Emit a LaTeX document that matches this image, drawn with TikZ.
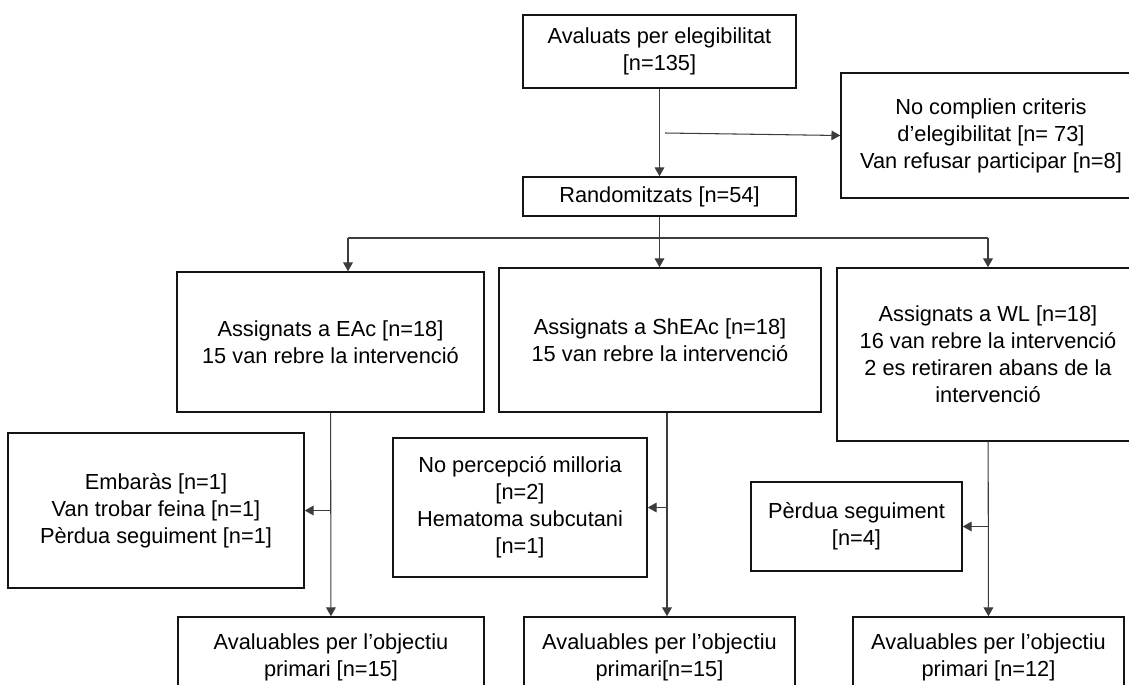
\documentclass[tikz,border=0pt]{standalone}
\usepackage{fontspec}
\setmainfont{Liberation Sans}
\usepackage{tikz}
\usetikzlibrary{positioning,arrows.meta,calc}
\definecolor{boxcolor}{RGB}{20, 20, 20}
\definecolor{linecolor}{RGB}{60, 60, 60}
\newcommand{\flowfont}{\fontsize{12.4pt}{15.3pt}\selectfont}
\tikzset{
    flow box/.style={rectangle, draw=boxcolor, line width=0.9pt, align=center, font=\flowfont, inner sep=2pt},
    flow line/.style={line width=0.6pt, draw=linecolor},
    flow arrow/.style={flow line, -{Triangle[length=5pt, width=5.5pt]}}
}

\begin{document}
\begin{tikzpicture}[x=0.02cm, y=-0.02cm]
\useasboundingbox (0,0) rectangle (1129,684);
\clip (0,0) rectangle (1129,684);

% screening
\node[flow box, minimum width=5.46cm, minimum height=1.46cm] (eval) at (659.5,51.5) {Avaluats per elegibilitat\\{[n=135]}};
\node[flow box, minimum width=6cm, minimum height=2.5cm] (excl) at (991,135.5) {No complien criteris\\d’elegibilitat [n= 73]\\Van refusar participar [n=8]};
\node[flow box, minimum width=5.46cm, minimum height=0.78cm] (rand) at (659.5,196.5) {Randomitzats [n=54]};

% allocation
\node[flow box, minimum width=6.14cm, minimum height=2.8cm] (eac) at (330.5,342) {Assignats a EAc [n=18]\\15 van rebre la intervenció};
\node[flow box, minimum width=6.44cm, minimum height=2.88cm] (sheac) at (660,340) {Assignats a ShEAc [n=18]\\15 van rebre la intervenció};
\node[flow box, minimum width=6.04cm, minimum height=3.46cm] (wl) at (988,354.5) {Assignats a WL [n=18]\\16 van rebre la intervenció\\2 es retiraren abans de la\\intervenció};

% losses
\node[flow box, minimum width=5.92cm, minimum height=3.1cm] (lossEac) at (156,510.5) {Embaràs [n=1]\\Van trobar feina [n=1]\\Pèrdua seguiment [n=1]};
\node[flow box, minimum width=5.08cm, minimum height=2.78cm] (lossSheac) at (520,507.5) {No percepció milloria\\{[n=2]}\\Hematoma subcutani\\{[n=1]}};
\node[flow box, minimum width=4.22cm, minimum height=1.78cm] (lossWl) at (856.5,526.5) {Pèrdua seguiment\\{[n=4]}};

% analysis
\node[flow box, minimum width=6.12cm, minimum height=1.6cm] (anaEac) at (331,657) {Avaluables per l’objectiu\\primari [n=15]};
\node[flow box, minimum width=5.42cm, minimum height=1.6cm] (anaSheac) at (659.5,657) {Avaluables per l’objectiu\\primari[n=15]};
\node[flow box, minimum width=5.42cm, minimum height=1.6cm] (anaWl) at (988.5,657) {Avaluables per l’objectiu\\primari [n=12]};

\coordinate (split) at (665,133);
\coordinate (forkL) at (348,238);
\coordinate (forkR) at (988,238);
\coordinate (midS) at ([xshift=0.14cm]sheac.south);

\draw[flow arrow] (eval) -- (rand);
\draw[flow arrow] (split) -- (excl.west);

\draw[flow line] (forkL) -- (forkR);
\draw[flow arrow] (rand.south) -- (rand.south |- sheac.north);
\draw[flow arrow] (forkL) -- (forkL |- eac.north);
\draw[flow arrow] (forkR) -- (wl.north);

\draw[flow arrow] (eac) -- (anaEac);
\draw[flow arrow] (eac.south |- lossEac.east) -- (lossEac.east);
\draw[flow arrow] (midS) -- (midS |- anaSheac.north);
\draw[flow arrow] (midS |- lossSheac.east) -- (lossSheac.east);
\draw[flow arrow] (wl) -- (anaWl);
\draw[flow arrow] (wl.south |- lossWl.east) -- (lossWl.east);
\end{tikzpicture}
\end{document}
